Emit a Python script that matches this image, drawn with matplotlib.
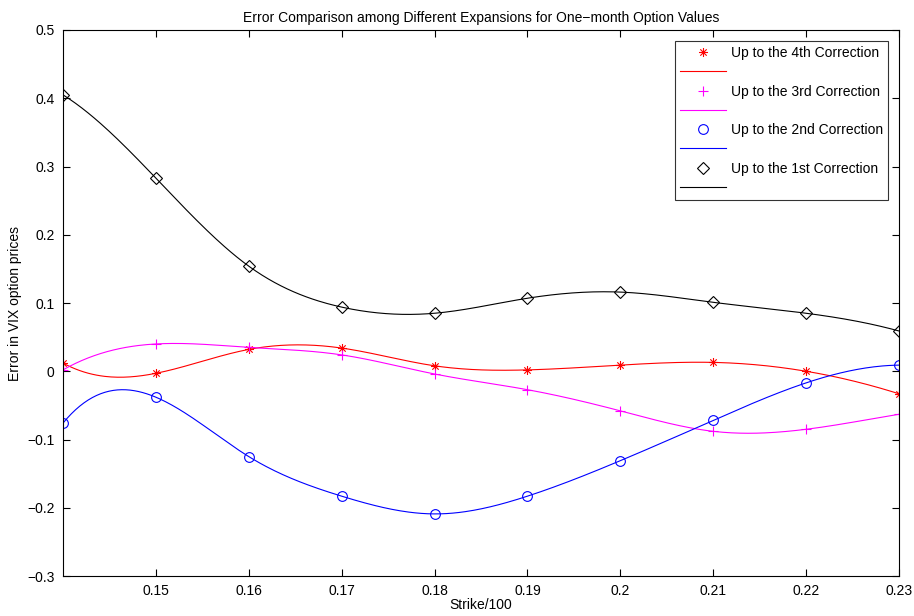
import numpy as np
import matplotlib
matplotlib.use("Agg")
import matplotlib.pyplot as plt
from matplotlib.lines import Line2D
from matplotlib.path import Path

# strike grid (x100) and the errors
strikes = [0.14, 0.15, 0.16, 0.17, 0.18, 0.19, 0.20, 0.21, 0.22, 0.23]
err_4th = [0.012, -0.003, 0.032, 0.034, 0.008, 0.002, 0.009, 0.013, 0.000, -0.033]
err_3rd = [0.002, 0.040, 0.035, 0.024, -0.004, -0.027, -0.058, -0.088, -0.085, -0.063]
err_2nd = [-0.076, -0.038, -0.125, -0.183, -0.209, -0.183, -0.131, -0.072, -0.017, 0.009]
err_1st = [0.405, 0.283, 0.154, 0.094, 0.085, 0.107, 0.116, 0.101, 0.085, 0.059]

labels = ["Up to the 4th Correction", "Up to the 3rd Correction",
          "Up to the 2nd Correction", "Up to the 1st Correction"]


def spline_curve(x, y, n=400):
    # not-a-knot cubic spline through the points (same as matlab spline)
    x = np.asarray(x, float)
    y = np.asarray(y, float)
    m = len(x)
    h = np.diff(x)
    A = np.zeros((m, m))
    b = np.zeros(m)
    for i in range(1, m - 1):
        A[i, i - 1] = h[i - 1]
        A[i, i] = 2 * (h[i - 1] + h[i])
        A[i, i + 1] = h[i]
        b[i] = 3 * ((y[i + 1] - y[i]) / h[i] - (y[i] - y[i - 1]) / h[i - 1])
    A[0, 0] = h[1]
    A[0, 1] = -(h[0] + h[1])
    A[0, 2] = h[0]
    A[-1, -3] = h[-1]
    A[-1, -2] = -(h[-2] + h[-1])
    A[-1, -1] = h[-2]
    c = np.linalg.solve(A, b)
    xs = np.linspace(x[0], x[-1], n)
    k = np.clip(np.searchsorted(x, xs) - 1, 0, m - 2)
    d = (c[k + 1] - c[k]) / (3 * h[k])
    bb = (y[k + 1] - y[k]) / h[k] - h[k] * (2 * c[k] + c[k + 1]) / 3
    dx = xs - x[k]
    return xs, y[k] + bb * dx + c[k] * dx ** 2 + d * dx ** 3


# matlab style asterisk: + and x on top of each other
s = 0.7071
asterisk = Path([(-1, 0), (1, 0), (0, -1), (0, 1), (-s, -s), (s, s), (-s, s), (s, -s)],
                [Path.MOVETO, Path.LINETO] * 4)

plt.rcParams['font.family'] = ['Liberation Sans', 'DejaVu Sans']

fig = plt.figure(figsize=(9.14, 6.16), dpi=100)
ax = fig.add_axes([0.0689, 0.0649, 0.9147, 0.8864])

series = [(err_4th, '#ff0000', asterisk, 6.5), (err_3rd, '#ff00ff', '+', 7),
          (err_2nd, '#0000ff', 'o', 7), (err_1st, '#000000', 'D', 6.3)]
handles = []
names = []
for (vals, col, mk, ms), lab in zip(series, labels):
    xs, ys = spline_curve(strikes, vals)
    ax.plot(strikes, vals, linestyle='none', marker=mk, color=col,
            markerfacecolor='none', markersize=ms, markeredgewidth=0.8)
    ax.plot(xs, ys, color=col, linewidth=0.8)
    handles.append(Line2D([], [], linestyle='none', marker=mk, color=col,
                          markerfacecolor='none', markersize=ms, markeredgewidth=0.8))
    names.append(lab)
    handles.append(Line2D([], [], color=col, linewidth=0.8))
    names.append(" ")

ax.set_xlim(0.14, 0.23)
ax.set_ylim(-0.3, 0.5)
ax.set_xticks([0.15, 0.16, 0.17, 0.18, 0.19, 0.2, 0.21, 0.22, 0.23])
ax.set_xticklabels(["0.15", "0.16", "0.17", "0.18", "0.19", "0.2", "0.21", "0.22", "0.23"])
ax.set_yticks(np.arange(-0.3, 0.51, 0.1))
ax.set_yticklabels(["\u22120.3", "\u22120.2", "\u22120.1", "0", "0.1", "0.2", "0.3", "0.4", "0.5"])
ax.tick_params(direction='in', top=True, right=True, labelsize=10, length=5, pad=6)

ax.set_title("Error Comparison among Different Expansions for One\u2212month Option Values",
             fontsize=10, pad=6)
ax.set_xlabel("Strike/100", fontsize=10, labelpad=0)
ax.set_ylabel("Error in VIX option prices", fontsize=10)

leg = ax.legend(handles, names, loc='upper right', fontsize=10, frameon=True,
                fancybox=False, edgecolor='k', handlelength=3.3, handletextpad=0.35,
                labelspacing=0.38, borderaxespad=0.8, borderpad=0.35)
leg.get_frame().set_linewidth(0.8)

fig.savefig("out.png", dpi=100)
